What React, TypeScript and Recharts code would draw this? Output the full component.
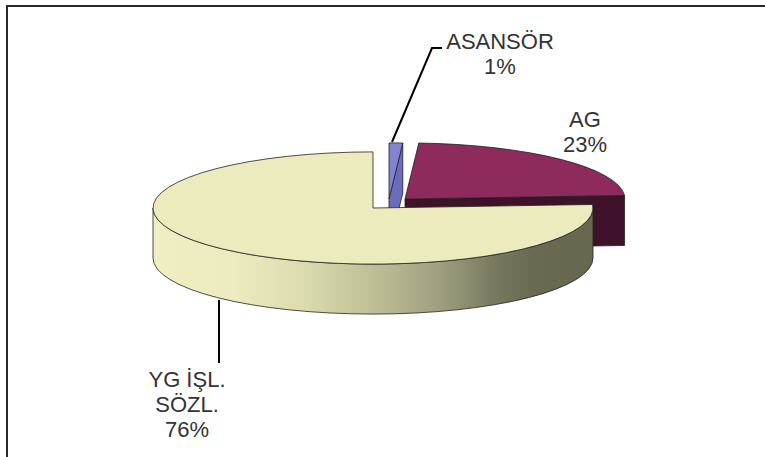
import React from "react";
import { PieChart, Pie } from "recharts";

// slices, clockwise from 12 o'clock
const categories = ["ASANSÖR", "AG", "YG İŞL.\nSÖZL."];
const values = [1, 23, 76];

const topColors = ["#8383D2", "#8E2A5C", "#EBEBBD"];
const sideColors = ["#6C6CBC", "#3E1229", "url(#ygWall)"];

// 3d look
const TILT = 0.255; // ry / rx
const DEPTH = 50;
const explode = [
  [16, -9],
  [32, -9],
  [0, 0],
];

// label placement relative to the pie centre
const labelLayout = [
  { x: 127, y: -159, line: [[19, -66], [59, -160], [69, -160]] },
  { x: 212, y: -81, line: [] },
  { x: -186, y: 179, line: [[-154, 92], [-154, 155]] },
];

const data = categories.map((name, i) => ({ name, value: values[i] }));

const rad = (a: number) => (a * Math.PI) / 180;

function Slice3D(props: any) {
  const { cx, cy, outerRadius, startAngle, endAngle, payload } = props;
  const i = categories.indexOf(payload?.name ?? props.name);
  const [ox, oy] = explode[i] || [0, 0];
  const x0 = cx + ox;
  const y0 = cy + oy;
  const rx = outerRadius;
  const ry = outerRadius * TILT;
  const hi = Math.max(startAngle, endAngle);
  const lo = Math.min(startAngle, endAngle);
  const pt = (a: number, dy = 0) => [x0 + rx * Math.cos(rad(a)), y0 - ry * Math.sin(rad(a)) + dy];
  const f = (p: number[]) => `${p[0].toFixed(2)},${p[1].toFixed(2)}`;
  const large = hi - lo > 180 ? 1 : 0;

  const top = `M${x0},${y0} L${f(pt(hi))} A${rx},${ry} 0 ${large} 1 ${f(pt(lo))} Z`;

  // front half of the rim: angles (-180..0) + 360n
  const walls: string[] = [];
  for (let n = -1; n <= 1; n++) {
    const a1 = Math.max(lo, -180 + 360 * n);
    const a2 = Math.min(hi, 360 * n);
    if (a2 - a1 > 0.01) {
      const lg = a2 - a1 > 180 ? 1 : 0;
      walls.push(
        `M${f(pt(a2))} A${rx},${ry} 0 ${lg} 1 ${f(pt(a1))} L${f(pt(a1, DEPTH))} A${rx},${ry} 0 ${lg} 0 ${f(pt(a2, DEPTH))} Z`
      );
    }
  }

  const faces: string[] = [];
  if (Math.cos(rad(lo)) > 0.001) {
    faces.push(`M${x0},${y0} L${f(pt(lo))} L${f(pt(lo, DEPTH))} L${x0},${y0 + DEPTH} Z`);
  }
  if (Math.cos(rad(hi)) < -0.001) {
    faces.push(`M${x0},${y0} L${f(pt(hi))} L${f(pt(hi, DEPTH))} L${x0},${y0 + DEPTH} Z`);
  }

  return (
    <g>
      <defs>
        <linearGradient id="ygWall" x1="0" y1="0" x2="1" y2="0">
          <stop offset="0" stopColor="#EEEEC2" />
          <stop offset="0.18" stopColor="#ECECC0" />
          <stop offset="0.34" stopColor="#DCDCB0" />
          <stop offset="0.47" stopColor="#C4C49C" />
          <stop offset="0.65" stopColor="#A0A080" />
          <stop offset="0.77" stopColor="#7A7A60" />
          <stop offset="0.86" stopColor="#6A6A52" />
          <stop offset="1" stopColor="#676750" />
        </linearGradient>
      </defs>
      {faces.map((d, k) => (
        <path key={"f" + k} d={d} fill={i === 2 ? "#9A9A7C" : sideColors[i]} stroke="#222" strokeWidth={0.8} />
      ))}
      {walls.map((d, k) => (
        <path key={"w" + k} d={d} fill={sideColors[i]} stroke="#222" strokeWidth={0.8} />
      ))}
      <path d={top} fill={topColors[i]} stroke="#222" strokeWidth={0.8} />
    </g>
  );
}

function renderLabel(props: any) {
  const { cx, cy, percent, payload } = props;
  const name = payload?.name ?? props.name;
  const i = categories.indexOf(name);
  const lay = labelLayout[i];
  if (!lay) return null;
  const lines = [...String(name).split("\n"), `${Math.round(percent * 100)}%`];
  return (
    <g>
      {lay.line.length > 0 && (
        <polyline
          points={lay.line.map((p) => `${cx + p[0]},${cy + p[1]}`).join(" ")}
          fill="none"
          stroke="#000"
          strokeWidth={2}
        />
      )}
      {lines.map((t, k) => (
        <text
          key={k}
          x={cx + lay.x}
          y={cy + lay.y + k * 25}
          textAnchor="middle"
          fontSize={22}
          fontFamily="'Liberation Sans', Arial, sans-serif"
          fill="#333"
        >
          {t}
        </text>
      ))}
    </g>
  );
}

export default function App() {
  return (
    <div style={{ position: "absolute", left: 0, top: 0, width: 765, height: 457, background: "#fff", overflow: "hidden" }}>
      <div
        style={{
          position: "absolute",
          left: 6,
          top: 5,
          width: 800,
          height: 500,
          borderTop: "2px solid #2a2a2a",
          borderLeft: "2px solid #2a2a2a",
        }}
      />
      <div style={{ position: "absolute", left: 0, top: 0 }}>
        <PieChart width={765} height={457} margin={{ top: 0, right: 0, bottom: 0, left: 0 }}>
          <Pie
            data={data}
            dataKey="value"
            nameKey="name"
            cx={373}
            cy={208}
            outerRadius={220}
            startAngle={90}
            endAngle={-270}
            stroke="none"
            shape={Slice3D}
            activeShape={Slice3D}
            inactiveShape={Slice3D}
            label={renderLabel}
            labelLine={false}
            isAnimationActive={false}
          />
        </PieChart>
      </div>
    </div>
  );
}
